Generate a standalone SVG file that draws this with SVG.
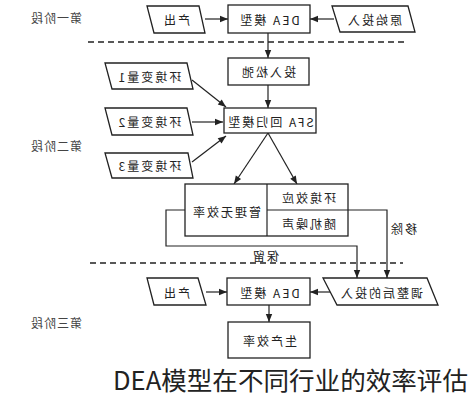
<svg xmlns="http://www.w3.org/2000/svg" width="469" height="400" viewBox="0 0 469 400">
<style>
.s{fill:#fff;stroke:#222;stroke-width:1.3}
.c{fill:none;stroke:#222;stroke-width:1.2}
.d{fill:none;stroke:#222;stroke-width:1.3;stroke-dasharray:6 4}
.t{font-family:"Noto Sans CJK SC","DejaVu Sans",sans-serif;font-size:12px;fill:#222;text-anchor:middle;dominant-baseline:central;letter-spacing:2px}
.g{font-family:"Noto Sans CJK SC","DejaVu Sans",sans-serif;font-size:12px;fill:#444;text-anchor:middle;dominant-baseline:central;letter-spacing:1px}
.cap{font-family:"Noto Sans CJK SC","Noto Sans",sans-serif;font-size:25px;fill:#222}
</style>
<defs>
<marker id="ah" viewBox="0 0 10 10" refX="10" refY="5" markerWidth="9" markerHeight="8" orient="auto" markerUnits="userSpaceOnUse"><path d="M0,1 L10,5 L0,9 z" fill="#222"/></marker>
</defs>
<rect width="469" height="400" fill="#fff"/>
<g id="stages">
<text class="g" transform="translate(56,17) scale(-1,1)">第一阶段</text>
<text class="g" transform="translate(56,145) scale(-1,1)">第二阶段</text>
<text class="g" transform="translate(56,322) scale(-1,1)">第三阶段</text>
</g>
<g id="dividers">
<line class="d" x1="88" y1="42" x2="405" y2="42"/>
<line class="d" x1="90" y1="263" x2="403" y2="263"/>
</g>
<g id="connectors">
<line class="c" x1="205" y1="19" x2="228" y2="19" marker-end="url(#ah)"/>
<line class="c" x1="334" y1="19" x2="310" y2="19" marker-end="url(#ah)"/>
<line class="c" x1="268" y1="33" x2="268" y2="58" marker-end="url(#ah)"/>
<line class="c" x1="268" y1="85" x2="268" y2="108" marker-end="url(#ah)"/>
<line class="c" x1="192" y1="80" x2="226" y2="107" marker-end="url(#ah)"/>
<line class="c" x1="192" y1="122" x2="223" y2="122" marker-end="url(#ah)"/>
<line class="c" x1="192" y1="162" x2="226" y2="136" marker-end="url(#ah)"/>
<line class="c" x1="268" y1="133" x2="234" y2="184" marker-end="url(#ah)"/>
<line class="c" x1="268" y1="133" x2="297" y2="184" marker-end="url(#ah)"/>
<polyline class="c" points="185,210 166,210 166,246 357,246 357,278" marker-end="url(#ah)"/>
<polyline class="c" points="348,210 387,210 387,278" marker-end="url(#ah)"/>
<line class="c" x1="206" y1="292" x2="227" y2="292" marker-end="url(#ah)"/>
<line class="c" x1="330" y1="292" x2="310" y2="292" marker-end="url(#ah)"/>
<line class="c" x1="269" y1="305" x2="269" y2="322" marker-end="url(#ah)"/>
<text class="t" transform="translate(265,255) scale(-1,1)">保留</text>
<text class="t" transform="translate(403,228) scale(-1,1)">移除</text>
</g>
<g id="out1">
<polygon class="s" points="147,6 199,6 205,33 154,33"/>
<text class="t" transform="translate(176,19) scale(-1,1)">产出</text>
</g>
<g id="dea1">
<rect class="s" x="228" y="5" width="82" height="28"/>
<text class="t" transform="translate(269,19) scale(-1,1)">DEA 模型</text>
</g>
<g id="in1">
<polygon class="s" points="332,6 408,6 415,32 340,32"/>
<text class="t" transform="translate(374,19) scale(-1,1)">原始投入</text>
</g>
<g id="slack">
<rect class="s" x="228" y="58" width="81" height="27"/>
<text class="t" transform="translate(268,71) scale(-1,1)">投入松弛</text>
</g>
<g id="env1">
<polygon class="s" points="105,63 187,63 193,89 112,89"/>
<text class="t" transform="translate(149,76) scale(-1,1)">环境变量1</text>
</g>
<g id="env2">
<polygon class="s" points="105,108 187,108 193,135 112,135"/>
<text class="t" transform="translate(149,121) scale(-1,1)">环境变量2</text>
</g>
<g id="env3">
<polygon class="s" points="105,153 188,153 193,178 112,178"/>
<text class="t" transform="translate(149,165) scale(-1,1)">环境变量3</text>
</g>
<g id="sfa">
<rect class="s" x="224" y="108" width="92" height="25"/>
<text class="t" transform="translate(270,121) scale(-1,1)">SFA 回归模型</text>
</g>
<g id="decomp">
<rect class="s" x="185" y="184" width="163" height="52"/>
<line class="c" x1="267" y1="184" x2="267" y2="236"/>
<line class="c" x1="267" y1="210" x2="348" y2="210"/>
<text class="t" transform="translate(226,211) scale(-1,1)">管理无效率</text>
<text class="t" transform="translate(308,197) scale(-1,1)">环境效应</text>
<text class="t" transform="translate(308,223) scale(-1,1)">随机噪声</text>
</g>
<g id="out3">
<polygon class="s" points="147,278 198,278 206,305 154,305"/>
<text class="t" transform="translate(176,292) scale(-1,1)">产出</text>
</g>
<g id="dea3">
<rect class="s" x="227" y="278" width="83" height="27"/>
<text class="t" transform="translate(269,292) scale(-1,1)">DEA 模型</text>
</g>
<g id="in3">
<polygon class="s" points="323,278 427,278 438,305 337,305"/>
<text class="t" transform="translate(381,292) scale(-1,1)">调整后的投入</text>
</g>
<g id="eff">
<rect class="s" x="228" y="322" width="82" height="36"/>
<text class="t" transform="translate(269,340) scale(-1,1)">生产效率</text>
</g>
<text class="cap" x="113" y="390" textLength="355" lengthAdjust="spacingAndGlyphs">DEA模型在不同行业的效率评估</text>
</svg>
